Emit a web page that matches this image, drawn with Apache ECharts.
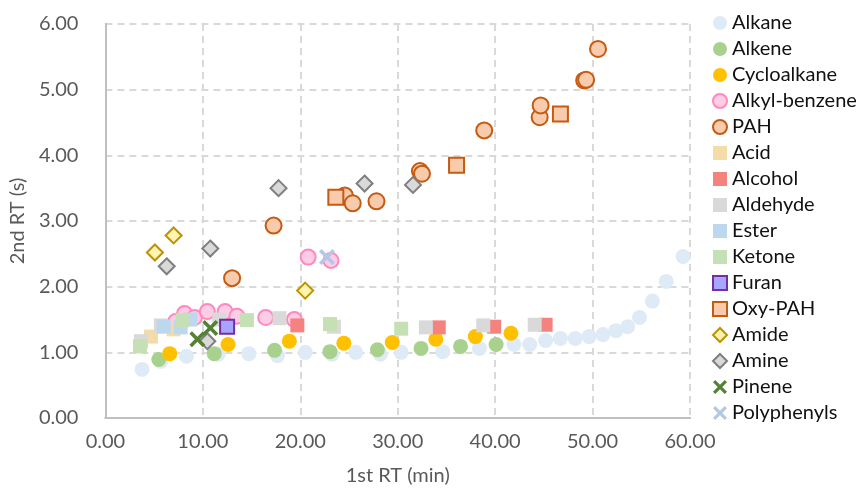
<!DOCTYPE html>
<html>
<head>
<meta charset="utf-8">
<script src="https://cdn.jsdelivr.net/npm/echarts@6/dist/echarts.min.js"></script>
<style>
  html, body { margin: 0; padding: 0; background: #fff; }
  #main { width: 866px; height: 495px; }
</style>
</head>
<body>
<div id="main"></div>
<script>
// 每个点是 [1st RT (min), 2nd RT (s)]
const alkane = [[3.76, 0.74], [5.69, 0.86], [8.32, 0.94], [11.57, 0.97], [14.72, 0.98], [17.66, 0.95],
    [20.51, 1.00], [23.25, 0.97], [25.69, 1.00], [28.22, 0.97], [30.36, 1.00], [34.62, 1.01], [38.38, 1.06],
    [41.93, 1.12], [43.55, 1.12], [45.18, 1.18], [46.70, 1.21], [48.22, 1.21], [49.64, 1.24], [51.07, 1.27],
    [52.39, 1.33], [53.60, 1.39], [54.82, 1.53], [56.14, 1.78], [57.56, 2.08], [59.29, 2.46]]
const alkene = [[5.48, 0.89], [11.17, 0.98], [17.36, 1.03], [23.05, 1.01], [27.92, 1.04], [32.39, 1.06],
    [36.45, 1.09], [40.10, 1.12]]
const cycloalkane = [[6.60, 0.98], [12.59, 1.12], [18.88, 1.17], [24.47, 1.14], [29.44, 1.15], [33.91, 1.20],
    [37.97, 1.24], [41.62, 1.29]]
const alkylBenzene = [[7.21, 1.47], [8.12, 1.59], [9.14, 1.53], [10.46, 1.62], [12.28, 1.62], [13.50, 1.55],
    [16.45, 1.53], [19.39, 1.50], [20.81, 2.45], [23.15, 2.40]]
const pah = [[13.0, 2.13], [17.26, 2.93], [24.57, 3.39], [25.38, 3.27], [27.82, 3.30], [32.28, 3.76],
    [32.49, 3.72], [38.88, 4.38], [44.57, 4.58], [44.67, 4.76], [49.14, 5.14], [49.34, 5.15], [50.56, 5.62]]
const acid = [[4.67, 1.24], [7.0, 1.35]]
const alcohol = [[19.70, 1.41], [34.21, 1.38], [39.90, 1.39], [45.18, 1.42]]
const aldehyde = [[3.65, 1.17], [5.69, 1.41], [11.68, 1.50], [17.87, 1.52], [23.45, 1.39], [32.89, 1.38],
    [38.78, 1.41], [44.06, 1.42]]
const ester = [[5.99, 1.39], [7.72, 1.38], [8.73, 1.50]]
const ketone = [[3.55, 1.09], [7.92, 1.49], [14.52, 1.49], [23.05, 1.43], [30.36, 1.36]]
const furan = [[12.49, 1.39]]
const oxyPah = [[23.65, 3.36], [36.04, 3.85], [46.70, 4.63]]
const amide = [[5.08, 2.52], [7.0, 2.78], [20.5, 1.94]]
const amine = [[6.29, 2.31], [10.76, 2.58], [17.77, 3.50], [26.6, 3.57], [31.57, 3.55], [10.46, 1.17]]
const pinene = [[9.44, 1.20], [10.76, 1.37]]
const polyphenyls = [[22.74, 2.45]]

const xTicks = [0, 10, 20, 30, 40, 50, 60]
const yTicks = [0, 1, 2, 3, 4, 5, 6]

const FONT = 'Lato'
const cross = 'path://M1.6,0 L5,3.4 L8.4,0 L10,1.6 L6.6,5 L10,8.4 L8.4,10 L5,6.6 L1.6,10 L0,8.4 L3.4,5 L0,1.6 Z'

// 生成散点系列
function sc(name, data, symbol, size, fill, border) {
    return {
        name: name,
        type: 'scatter',
        data: data,
        symbol: symbol,
        symbolSize: size,
        itemStyle: {
            color: fill,
            borderColor: border || fill,
            borderWidth: border ? 2 : 0,
            opacity: 1
        },
        emphasis: { disabled: true }
    }
}

const seriesList = [
    sc('Alkane', alkane, 'circle', 15, '#DEEBF7'),
    sc('Alkene', alkene, 'circle', 15, '#A9D18E'),
    sc('Cycloalkane', cycloalkane, 'circle', 15, '#FFC000'),
    sc('Alkyl-benzene', alkylBenzene, 'circle', 15, '#FFCCE5', '#FF88BE'),
    sc('PAH', pah, 'circle', 16, '#F8CBAD', '#C55A11'),
    sc('Acid', acid, 'rect', 14, '#F3DCA8'),
    sc('Alcohol', alcohol, 'rect', 14, '#F4837F'),
    sc('Aldehyde', aldehyde, 'rect', 14, '#D9D9D9'),
    sc('Ester', ester, 'rect', 14, '#BDD7EE'),
    sc('Ketone', ketone, 'rect', 14, '#C5E0B4'),
    sc('Furan', furan, 'rect', 14, '#A9A5FF', '#7030A0'),
    sc('Oxy-PAH', oxyPah, 'rect', 15, '#F8CBAD', '#C55A11'),
    sc('Amide', amide, 'diamond', 16, '#FFF5B0', '#BF9000'),
    sc('Amine', amine, 'diamond', 16, '#D9D9D9', '#7F7F7F'),
    sc('Pinene', pinene, cross, 16, '#548235'),
    sc('Polyphenyls', polyphenyls, cross, 16, '#B4C7E7')
]

const gridLine = { show: true, lineStyle: { color: '#D9D9D9', width: 2, type: [7, 5] } }
const frame = { show: true, lineStyle: { color: '#BFBFBF', width: 2 } }

const myChart = echarts.init(document.getElementById('main'))
const option = {
    backgroundColor: '#fff',
    animation: false,
    textStyle: { fontFamily: FONT },
    grid: { left: 99, top: 24, right: 176, bottom: 77 },
    legend: {
        orient: 'vertical',
        left: 707,
        top: 8,
        itemWidth: 14,
        itemHeight: 14,
        itemGap: 6,
        textStyle: { fontFamily: FONT, fontSize: 20, lineHeight: 18, color: '#111' },
        data: seriesList.map(s => s.name)
    },
    xAxis: [{
        type: 'value',
        min: xTicks[0],
        max: xTicks[xTicks.length - 1],
        interval: 10,
        name: '1st RT (min)',
        nameLocation: 'middle',
        nameGap: 48,
        nameTextStyle: { fontFamily: FONT, fontSize: 20, color: '#595959' },
        axisLine: frame,
        axisTick: { show: false },
        axisLabel: { margin: 14, fontFamily: FONT, fontSize: 20, color: '#595959', formatter: v => v.toFixed(2) },
        splitLine: gridLine
    }, {
        type: 'value', position: 'top', min: 0, max: 60,
        axisLine: frame, axisTick: { show: false }, axisLabel: { show: false }, splitLine: { show: false }
    }],
    yAxis: [{
        type: 'value',
        min: yTicks[0],
        max: yTicks[yTicks.length - 1],
        interval: 1,
        name: '2nd RT (s)',
        nameLocation: 'middle',
        nameGap: 70,
        nameTextStyle: { fontFamily: FONT, fontSize: 20, color: '#595959' },
        axisLine: frame,
        axisTick: { show: false },
        axisLabel: { margin: 27, fontFamily: FONT, fontSize: 20, color: '#595959', formatter: v => v.toFixed(2) },
        splitLine: gridLine
    }, {
        type: 'value', position: 'right', min: 0, max: 6,
        axisLine: frame, axisTick: { show: false }, axisLabel: { show: false }, splitLine: { show: false }
    }],
    series: seriesList
}
myChart.setOption(option)
</script>
</body>
</html>
